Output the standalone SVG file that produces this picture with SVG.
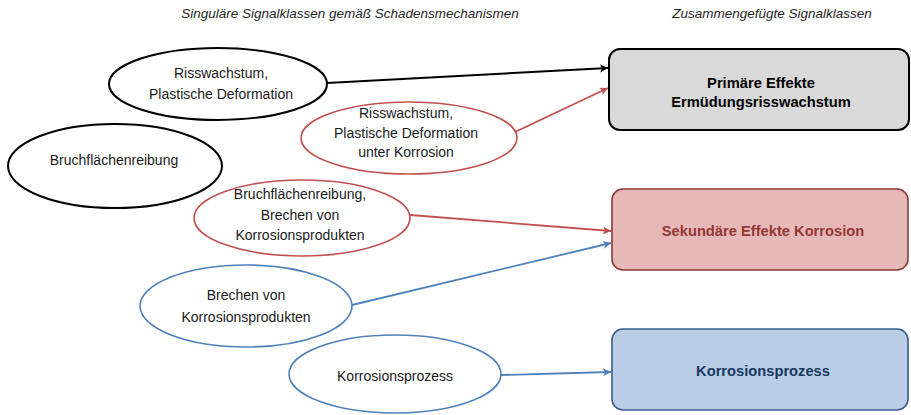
<svg xmlns="http://www.w3.org/2000/svg" width="911" height="415" viewBox="0 0 911 415">
<defs>
<style>
text{font-family:"Liberation Sans",Arial,sans-serif;text-anchor:middle;}
.hdr{font-size:13.5px;font-style:italic;fill:#262626;}
.et{font-size:14px;fill:#1a1a1a;}
.bt{font-size:14.7px;font-weight:bold;}
.eb{fill:#fff;stroke:#000;stroke-width:2;}
.er{fill:#fff;stroke:#c0504d;stroke-width:1.6;}
.eu{fill:#fff;stroke:#4f81bd;stroke-width:1.6;}
.cb{stroke:#000;stroke-width:2;fill:none;}
.cr{stroke:#c0504d;stroke-width:1.8;fill:none;}
.cu{stroke:#4f81bd;stroke-width:1.8;fill:none;}
</style>
<marker id="mb" markerWidth="10" markerHeight="10" refX="8" refY="4" orient="auto" markerUnits="userSpaceOnUse"><path d="M0,0 L8,4 L0,8 L2,4 Z" fill="#000"/></marker>
<marker id="mr" markerWidth="10" markerHeight="10" refX="8" refY="4" orient="auto" markerUnits="userSpaceOnUse"><path d="M0,0 L8,4 L0,8 L2,4 Z" fill="#c0504d"/></marker>
<marker id="mu" markerWidth="10" markerHeight="10" refX="8" refY="4" orient="auto" markerUnits="userSpaceOnUse"><path d="M0,0 L8,4 L0,8 L2,4 Z" fill="#4f81bd"/></marker>
</defs>
<rect width="911" height="415" fill="#fff"/>
<text class="hdr" x="350" y="18">Singuläre Signalklassen gemäß Schadensmechanismen</text>
<text class="hdr" x="772" y="18">Zusammengefügte Signalklassen</text>

<g id="connectors">
<line class="cb" x1="327" y1="83" x2="608" y2="68" marker-end="url(#mb)"/>
<line class="cr" x1="515" y1="132" x2="608" y2="88" marker-end="url(#mr)"/>
<line class="cr" x1="410" y1="215" x2="611" y2="231" marker-end="url(#mr)"/>
<line class="cu" x1="352" y1="305" x2="611" y2="243" marker-end="url(#mu)"/>
<line class="cu" x1="501" y1="375" x2="611" y2="372" marker-end="url(#mu)"/>
</g>

<g id="e1">
<ellipse class="eb" cx="218" cy="84" rx="109" ry="36"/>
<text class="et" x="221" y="78">Risswachstum,</text>
<text class="et" x="221" y="99">Plastische Deformation</text>
</g>
<g id="e2">
<ellipse class="er" cx="409" cy="138" rx="108" ry="36"/>
<text class="et" x="406" y="118">Risswachstum,</text>
<text class="et" x="406" y="138">Plastische Deformation</text>
<text class="et" x="406" y="157">unter Korrosion</text>
</g>
<g id="e3">
<ellipse class="eb" cx="115" cy="166" rx="107" ry="42"/>
<text class="et" x="114" y="165">Bruchflächenreibung</text>
</g>
<g id="e4">
<ellipse class="er" cx="302" cy="218" rx="108" ry="38"/>
<text class="et" x="300" y="199">Bruchflächenreibung,</text>
<text class="et" x="300" y="220">Brechen von</text>
<text class="et" x="300" y="240">Korrosionsprodukten</text>
</g>
<g id="e5">
<ellipse class="eu" cx="246" cy="306" rx="106" ry="41"/>
<text class="et" x="246" y="300">Brechen von</text>
<text class="et" x="246" y="322">Korrosionsprodukten</text>
</g>
<g id="e6">
<ellipse class="eu" cx="395" cy="374" rx="106" ry="39"/>
<text class="et" x="395" y="381">Korrosionsprozess</text>
</g>

<g id="b1">
<rect x="609" y="49" width="300" height="81" rx="11" fill="#d9d9d9" stroke="#000" stroke-width="2"/>
<text class="bt" x="761" y="88" fill="#000">Primäre Effekte</text>
<text class="bt" x="761" y="107" fill="#000">Ermüdungsrisswachstum</text>
</g>
<g id="b2">
<rect x="612" y="189" width="296" height="81" rx="11" fill="#e6b9b8" stroke="#8c3a38" stroke-width="1.6"/>
<text class="bt" x="763" y="236" fill="#953735">Sekundäre Effekte Korrosion</text>
</g>
<g id="b3">
<rect x="612" y="329" width="296" height="81" rx="11" fill="#b9cde5" stroke="#385d8a" stroke-width="1.6"/>
<text class="bt" x="763" y="376" fill="#17375e">Korrosionsprozess</text>
</g>
</svg>
